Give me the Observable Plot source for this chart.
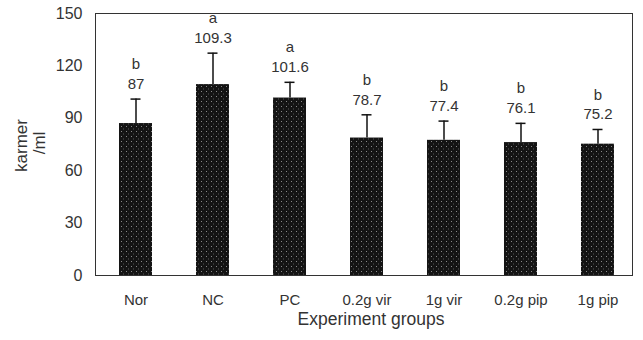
<!DOCTYPE html>
<html>
<head>
<meta charset="utf-8">
<script src="https://cdn.jsdelivr.net/npm/d3@7"></script>
<script src="https://cdn.jsdelivr.net/npm/@observablehq/plot@0.6"></script>
<style>
  html, body { margin: 0; padding: 0; background: #fff; }
  #chart svg { display: block; }
</style>
</head>
<body>
<div id="chart"></div>
<script>
const groups = ["Nor", "NC", "PC", "0.2g vir", "1g vir", "0.2g pip", "1g pip"];
const means = [87, 109.3, 101.6, 78.7, 77.4, 76.1, 75.2];
const sds = [14, 18, 9, 13.3, 11, 11, 8.4];
const letters = ["b", "a", "a", "b", "b", "b", "b"];
const yTicks = [0, 30, 60, 90, 120, 150];
const yTitleLines = ["karmer", "/ml"];

const data = groups.map((g, i) => ({
  group: g,
  mean: means[i],
  top: means[i] + sds[i],
  label: letters[i] + "\n" + means[i]
}));

const font = "'Liberation Sans', Arial, sans-serif";

const chart = Plot.plot({
  width: 643,
  height: 340,
  marginLeft: 95,
  marginRight: 11,
  marginTop: 13,
  marginBottom: 65,
  style: { fontFamily: font, background: "#fff", color: "#333" },
  x: { domain: groups, paddingInner: 0.575, paddingOuter: 0.2475, align: 0.573, label: null },
  y: { domain: [0, 150], label: null },
  marks: [
    Plot.frame({ stroke: "#333", strokeWidth: 1 }),
    Plot.barY(data, { x: "group", y: "mean", fill: "url(#dots)" }),
    Plot.ruleX(data, { x: "group", y1: "mean", y2: "top", stroke: "#111", strokeWidth: 1.5 }),
    Plot.tickY(data, { x: "group", y: "top", stroke: "#111", strokeWidth: 1.5, insetLeft: 11.5, insetRight: 11.5 }),
    Plot.text(data, { x: "group", y: "top", text: "label", lineAnchor: "bottom", dy: -10, lineHeight: 1.33, fontSize: 15, fill: "#333" }),
    Plot.axisY({ ticks: yTicks, tickSize: 0, tickPadding: 13, fontSize: 16, label: null }),
    Plot.axisX({ tickSize: 0, tickPadding: 19, fontSize: 15, label: null }),
    Plot.text(["Experiment groups"], { frameAnchor: "bottom", dx: 7, dy: 49.5, fontSize: 17.5, fill: "#333" }),
    Plot.text([yTitleLines[0]], { frameAnchor: "left", textAnchor: "middle", lineAnchor: "middle", dx: -73.5, dy: 1, rotate: -90, fontSize: 17, fill: "#333" }),
    Plot.text([yTitleLines[1]], { frameAnchor: "left", textAnchor: "middle", lineAnchor: "middle", dx: -55.5, dy: -1.5, rotate: -90, fontSize: 17, fill: "#333" })
  ]
});

const svg = d3.select(chart);
const defs = svg.insert("defs", ":first-child");
const pat = defs.append("pattern")
  .attr("id", "dots")
  .attr("patternUnits", "userSpaceOnUse")
  .attr("width", 5)
  .attr("height", 5);
pat.append("rect").attr("width", 5).attr("height", 5).attr("fill", "#141414");
pat.append("rect").attr("x", 1).attr("y", 1).attr("width", 1).attr("height", 1).attr("fill", "#8a8a8a");
pat.append("rect").attr("x", 3).attr("y", 3.5).attr("width", 1).attr("height", 1).attr("fill", "#5a5a5a");

document.getElementById("chart").appendChild(chart);
</script>
</body>
</html>
